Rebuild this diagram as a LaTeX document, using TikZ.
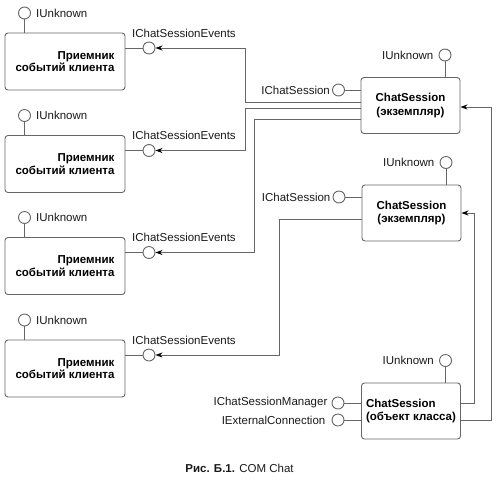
\documentclass[tikz,border=0pt]{standalone}
\usepackage{fontspec}
\setmainfont{Liberation Sans}
\usetikzlibrary{arrows.meta}
\begin{document}
\begin{tikzpicture}[x=1pt,y=-1pt,
  ln/.style={draw=black!60, line width=0.9pt},
  sinkbox/.style={ln, rounded corners=3pt, minimum width=120pt, minimum height=57pt, align=right, inner sep=0pt, font=\fontsize{11.5}{12.5}\selectfont\bfseries},
  csbox/.style={ln, rounded corners=3pt, minimum width=99pt, minimum height=56pt, align=center, inner sep=0pt, font=\fontsize{11.5}{13.5}\selectfont\bfseries},
  lolli/.style={circle, ln, fill=white, minimum size=12pt, inner sep=0pt},
  lbl/.style={font=\fontsize{11.5}{13}\selectfont, inner sep=1pt, text=black!90},
  conn/.style={ln, -{Stealth[length=7pt,width=5pt,black]}}
]
\useasboundingbox (0,0) rectangle (500,483);

% client sinks
\foreach \i/\c in {1/61.5, 2/164, 3/266, 4/368.5}{
  \node[sinkbox] (sink\i) at (65,\c) {Приемник\\событий клиента};
  \node[lolli] (u\i) at (24.5,\c-48.5) {};
  \node[lbl, anchor=west] (ul\i) at ([xshift=4pt]u\i.east) {IUnknown};
  \draw[ln] (u\i.south) -- (u\i.south |- sink\i.north);
  \node[lolli] (ev\i) at (149,\c-13.5) {};
  \draw[ln] (sink\i.east |- ev\i) -- (ev\i.west);
  \node[lbl, anchor=west] (evl\i) at ([shift={(-18,-15)}]ev\i.center) {IChatSessionEvents};
}

% ChatSession objects
\node[csbox] (cs1) at (410.5,105.5) {ChatSession\\(экземпляр)};
\node[csbox] (cs2) at (411.5,213) {ChatSession\\(экземпляр)};
\node[csbox, align=left] (cs3) at (411,411) {ChatSession\\(объект класса)};

\foreach \k in {1,2,3}{
  \node[lolli] (cu\k) at ([shift={(34.5,-50.5)}]cs\k.center) {};
  \node[lbl, anchor=east] (cul\k) at ([xshift=-4pt]cu\k.west) {IUnknown};
  \draw[ln] (cu\k.south) -- (cu\k.south |- cs\k.north);
}

\node[lolli] (ci1) at (338.5,90) {};
\node[lbl, anchor=east] (cil1) at ([xshift=-1pt]ci1.west) {IChatSession};
\draw[ln] (ci1.east) -- (ci1 -| cs1.west);
\node[lolli] (ci2) at (339,197) {};
\node[lbl, anchor=east] (cil2) at ([xshift=-1pt]ci2.west) {IChatSession};
\draw[ln] (ci2.east) -- (ci2 -| cs2.west);

\node[lolli] (cm) at (338,403) {};
\node[lbl, anchor=east] (cml) at ([xshift=-3pt]cm.west) {IChatSessionManager};
\draw[ln] (cm.east) -- (cm -| cs3.west);
\node[lolli] (ce) at (338,420) {};
\node[lbl, anchor=east] (cel) at ([xshift=-5pt]ce.west) {IExternalConnection};
\draw[ln] (ce.east) -- (ce -| cs3.west);

% event connectors
\draw[conn] ([yshift=3.5pt]cs1.west) -- ++(-115.5,0) |- (ev1.east);
\draw[conn] ([yshift=-2.5pt]cs1.west) -- ++(-115.5,0) |- (ev2.east);
\draw[conn] ([yshift=-13.5pt]cs1.west) -- ++(-106,0) |- (ev3.east);
\draw[conn] ([yshift=-6pt]cs2.west) -- ++(-82.5,0) |- (ev4.east);

% class object creates instances
\draw[conn] ([yshift=8pt]cs3.east) -- ++(13.5,0) |- (cs2.east);
\draw[conn] ([yshift=-9pt]cs3.east) -- ++(30.5,0) |- ([yshift=-1.5pt]cs1.east);

% caption
\node[lbl] (cap) at (239.5,468) {\textbf{Рис. Б.1.} COM Chat};
\end{tikzpicture}
\end{document}
